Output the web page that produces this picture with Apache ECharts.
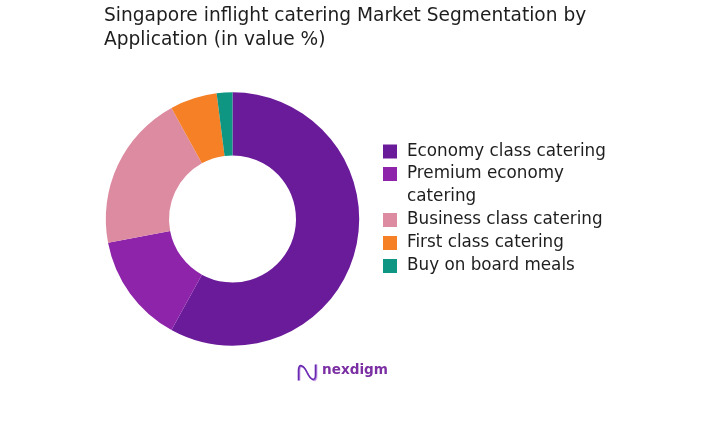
<!DOCTYPE html>
<html>
<head>
<meta charset="utf-8">
<script src="https://cdn.jsdelivr.net/npm/echarts@6/dist/echarts.min.js"></script>
<style>
html,body{margin:0;padding:0;background:#fff;}
#chart{width:726px;height:447px;}
</style>
</head>
<body>
<div id="chart"></div>
<script>
const titleText = 'Singapore inflight catering Market Segmentation by\nApplication (in value %)';
const categories = ['Economy class catering', 'Premium economy catering', 'Business class catering', 'First class catering', 'Buy on board meals'];
const values = [58, 14, 20, 6, 2];
const colors = ['#6A1B9A', '#8E24AA', '#DC8BA1', '#F58025', '#0F9683'];

const FONT = 'DejaVu Sans';
const LH = 23;
const chart = echarts.init(document.getElementById('chart'), null, {renderer: 'canvas'});

function legendBase(extra) {
  return Object.assign({
    orient: 'vertical',
    left: 383,
    padding: 0,
    itemWidth: 14,
    itemHeight: 14,
    itemGap: 0,
    icon: 'rect',
    selectedMode: false,
    textStyle: {fontFamily: FONT, fontSize: 16.8, color: '#1E1E1E', lineHeight: LH, padding: [0, 0, 0, 5]}
  }, extra);
}

function wave(dx, dy, color, w) {
  return [
    {type: 'line', shape: {x1: 1 + dx, y1: 16.5, x2: 1 + dx, y2: 6 + dy}, style: {stroke: color, lineWidth: w}},
    {type: 'bezierCurve', shape: {x1: 1 + dx, y1: 6 + dy, cpx1: 1 + dx, cpy1: -1 + dy, cpx2: 6 + dx, cpy2: 1 + dy, x2: 9.5 + dx, y2: 8.5 + dy}, style: {fill: null, stroke: color, lineWidth: w}},
    {type: 'bezierCurve', shape: {x1: 9.5 + dx, y1: 8.5 + dy, cpx1: 13 + dx, cpy1: 16 + dy, cpx2: 18 + dx, cpy2: 18 + dy, x2: 18 + dx, y2: 11 + dy}, style: {fill: null, stroke: color, lineWidth: w}},
    {type: 'line', shape: {x1: 18 + dx, y1: 11 + dy, x2: 18 + dx, y2: 0.5}, style: {stroke: color, lineWidth: w}}
  ];
}

const option = {
  animation: false,
  title: {
    text: titleText,
    left: 104,
    top: 4,
    padding: 0,
    textStyle: {fontFamily: FONT, fontSize: 18.6, fontWeight: 'normal', color: '#1E1E1E', lineHeight: 24}
  },
  legend: [
    legendBase({top: 140, data: [categories[0]]}),
    legendBase({
      top: 139.5,
      data: [categories[1]],
      formatter: function () { return '\u00a0\nPremium economy\ncatering'; }
    }),
    legendBase({top: 208.5, data: categories.slice(2)})
  ],
  series: [{
    type: 'pie',
    center: [232.5, 219],
    radius: [63.5, 126.7],
    startAngle: 90,
    clockwise: true,
    label: {show: false},
    labelLine: {show: false},
    emphasis: {disabled: true},
    data: categories.map(function (c, i) {
      return {name: c, value: values[i], itemStyle: {color: colors[i]}};
    })
  }],
  graphic: [
    {
      type: 'group',
      left: 296,
      top: 362,
      children: [].concat(
        wave(1.5, 1.5, '#D2B3EE', 1),
        wave(0.7, 0.7, '#A368D8', 1.1),
        wave(0, 0, '#6A2AB0', 1.6)
      )
    },
    {
      type: 'text',
      left: 322,
      top: 363,
      style: {text: 'nexdigm', fontFamily: FONT, fontSize: 13.6, fontWeight: 'bold', fill: '#7B2FA3'}
    }
  ]
};
chart.setOption(option);
</script>
</body>
</html>
